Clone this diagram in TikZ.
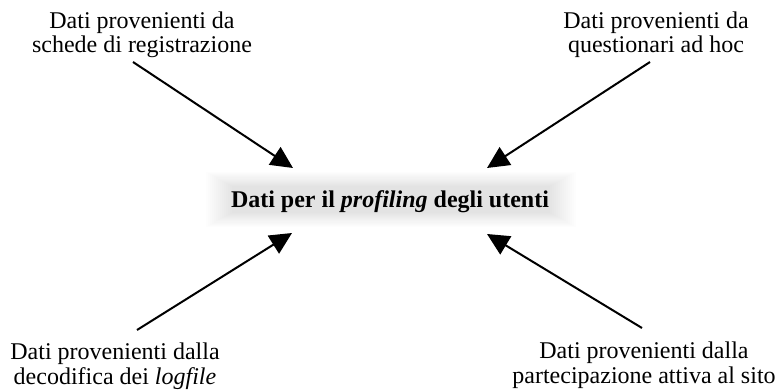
\documentclass[tikz,border=0pt]{standalone}
\usepackage{fontspec}
\setmainfont{Liberation Serif}
\usetikzlibrary{arrows.meta}
\begin{document}
\begin{tikzpicture}[x=1pt,y=-1pt,
  lbl/.style={align=center,inner sep=0pt,anchor=base,font=\fontsize{24}{24.5}\selectfont},
  ctr/.style={inner sep=0pt,anchor=base,font=\fontsize{24}{24}\selectfont\bfseries},
  feed/.style={line width=2pt,-{Triangle[length=22pt,width=21pt]}}]
  \useasboundingbox (0,0) rectangle (777,390);
  % soft grey halo behind the central title
  \foreach \k in {0,...,13}
    \fill[black,opacity=0.006] (206+\k*2,172+\k*1.1) rectangle (576-\k*2,227-\k*1.1);
  \node[ctr] (hub) at (390,208) {Dati per il \textit{profiling} degli utenti};
  % anchor=base sits on the last line of each label
  \node[lbl] (tl) at (142,53) {Dati provenienti da\\schede di registrazione};
  \node[lbl] (tr) at (656,53) {Dati provenienti da\\questionari ad hoc};
  \node[lbl] (bl) at (115,384) {Dati provenienti dalla\\decodifica dei \textit{logfile}};
  \node[lbl] (br) at (644,383) {Dati provenienti dalla\\partecipazione attiva al sito};
  \coordinate (tlS) at (133,62);  \coordinate (tlE) at (293,168);
  \coordinate (trS) at (650,62);  \coordinate (trE) at (487,168);
  \coordinate (blS) at (137,330); \coordinate (blE) at (292,233);
  \coordinate (brS) at (642,328); \coordinate (brE) at (487,234);
  \draw[feed] (tlS) -- (tlE);
  \draw[feed] (trS) -- (trE);
  \draw[feed] (blS) -- (blE);
  \draw[feed] (brS) -- (brE);
\end{tikzpicture}
\end{document}
